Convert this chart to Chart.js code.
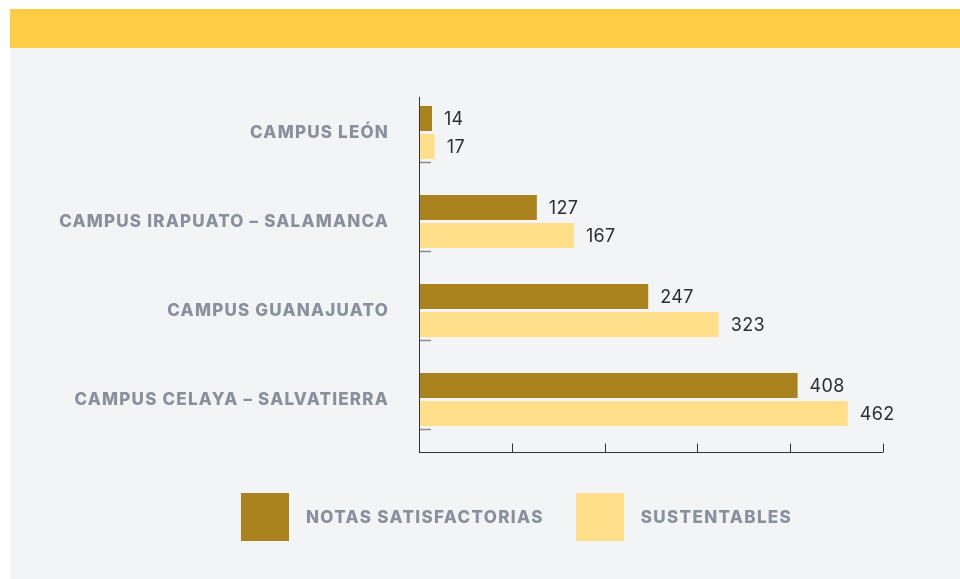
<!DOCTYPE html>
<html>
<head>
<meta charset="utf-8">
<script src="https://cdn.jsdelivr.net/npm/chart.js@4/dist/chart.umd.min.js"></script>
<style>
  html,body{margin:0;padding:0;background:#fff;width:960px;height:579px;overflow:hidden;}
  #panel{position:absolute;left:10px;top:48px;width:950px;height:531px;background:#f3f4f6;}
  #header{position:absolute;left:10px;top:9px;width:950px;height:39px;background:#ffcd45;}
  #wrap{position:absolute;left:0;top:0;width:960px;height:579px;}
  #legend{position:absolute;left:241px;top:493px;display:flex;align-items:center;font-family:Inter,"Open Sans",sans-serif;font-weight:800;font-size:17px;color:#8a909c;letter-spacing:1.35px;}
  #legend .box{width:48px;height:48px;margin-right:17px;}
  #legend .item{display:flex;align-items:center;margin-right:32px;}
</style>
</head>
<body>
<div id="header"></div>
<div id="panel"></div>
<div id="wrap"><canvas id="c" width="960" height="579"></canvas></div>
<div id="legend"></div>
<script>
const categories = ["CAMPUS LEÓN", "CAMPUS IRAPUATO – SALAMANCA", "CAMPUS GUANAJUATO", "CAMPUS CELAYA – SALVATIERRA"];
const seriesNames = ["NOTAS SATISFACTORIAS", "SUSTENTABLES"];
const notasValues = [14, 127, 247, 408];
const sustentablesValues = [17, 167, 323, 462];
const xTicks = [0, 100, 200, 300, 400, 500];
const colors = ["#aa831e", "#ffdf8a"];

const spacingPlugin = {
  id: 'spacingPlugin',
  beforeLayout(chart) { chart.ctx.letterSpacing = '1.2px'; },
  beforeDraw(chart) { chart.ctx.letterSpacing = '1.2px'; }
};

const axisPlugin = {
  id: 'axisPlugin',
  afterDraw(chart) {
    const ctx = chart.ctx, ca = chart.chartArea;
    const xs = chart.scales.x, ys = chart.scales.y;
    const band = (ys.getPixelForValue(1) - ys.getPixelForValue(0));
    const axisY = ca.bottom + band * 0.09;
    const topY = ca.top + band * 0.1;
    ctx.save();
    ctx.strokeStyle = '#8c8c8c';
    ctx.lineWidth = 1.5;
    categories.forEach((c, i) => {
      const y = Math.round(ys.getPixelForValue(i) + band * 0.33) + 0.5;
      ctx.beginPath(); ctx.moveTo(ca.left, y); ctx.lineTo(ca.left + 12, y); ctx.stroke();
    });
    ctx.strokeStyle = '#333';
    ctx.lineWidth = 1;
    const lx = Math.round(ca.left) + 0.5;
    ctx.beginPath(); ctx.moveTo(lx, topY); ctx.lineTo(lx, axisY); ctx.stroke();
    const ay = Math.round(axisY) + 0.5;
    ctx.beginPath(); ctx.moveTo(ca.left, ay); ctx.lineTo(xs.getPixelForValue(xTicks[xTicks.length-1]), ay); ctx.stroke();
    xTicks.forEach(v => {
      const x = Math.round(xs.getPixelForValue(v)) + 0.5;
      ctx.beginPath(); ctx.moveTo(x, ay - 9); ctx.lineTo(x, ay); ctx.stroke();
    });
    ctx.restore();
  }
};

const labelPlugin = {
  id: 'labelPlugin',
  afterDatasetsDraw(chart) {
    const ctx = chart.ctx;
    ctx.save();
    ctx.letterSpacing = '0.3px';
    ctx.font = '400 18px Inter, "Open Sans", sans-serif';
    ctx.fillStyle = '#2e2e2e';
    ctx.textBaseline = 'middle';
    ctx.textAlign = 'left';
    chart.data.datasets.forEach((ds, di) => {
      chart.getDatasetMeta(di).data.forEach((bar, i) => {
        ctx.fillText(String(ds.data[i]), bar.x + 12, bar.y + 1);
      });
    });
    ctx.restore();
  }
};

new Chart(document.getElementById('c'), {
  type: 'bar',
  data: {
    labels: categories,
    datasets: [
      { label: seriesNames[0], data: notasValues, backgroundColor: colors[0], barPercentage: 0.893, categoryPercentage: 0.629 },
      { label: seriesNames[1], data: sustentablesValues, backgroundColor: colors[1], barPercentage: 0.893, categoryPercentage: 0.629 }
    ]
  },
  options: {
    indexAxis: 'y',
    responsive: false,
    animation: false,
    layout: { padding: { top: 88, bottom: 135, right: 77, left: 0 } },
    plugins: { legend: { display: false }, tooltip: { enabled: false } },
    scales: {
      x: { display: false, min: 0, max: 500 },
      y: {
        offset: true,
        border: { display: false },
        grid: { display: false, drawTicks: false },
        ticks: { padding: 30, color: '#8a909c', font: { family: 'Inter, "Open Sans", sans-serif', weight: '800', size: 17 } },
        afterFit(scale) { scale.width = 419; }
      }
    }
  },
  plugins: [spacingPlugin, axisPlugin, labelPlugin]
});

const legend = document.getElementById('legend');
seriesNames.forEach((n, i) => {
  const it = document.createElement('div'); it.className = 'item';
  const b = document.createElement('div'); b.className = 'box'; b.style.background = colors[i];
  const t = document.createElement('span'); t.textContent = n;
  it.appendChild(b); it.appendChild(t); legend.appendChild(it);
});
</script>
</body>
</html>
